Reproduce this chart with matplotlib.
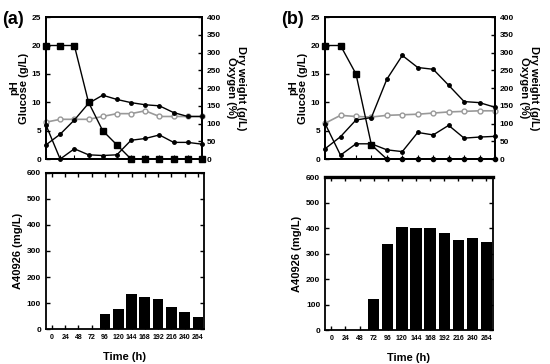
import numpy as np
import matplotlib.pyplot as plt

plt.rcParams['font.family'] = ['Liberation Sans', 'DejaVu Sans']
plt.rcParams['font.weight'] = 'bold'

time = [0, 24, 48, 72, 96, 120, 144, 168, 192, 216, 240, 264]

# panel (a)
glucose_a = [20, 20, 20, 10, 5, 2.5, 0, 0, 0, 0, 0, 0]
ph_a = [6.5, 7, 7, 7, 7.5, 8, 8, 8.5, 7.5, 7.5, 7.5, 7.5]
dry_a = [40, 70, 110, 157, 180, 168, 159, 153, 150, 131, 120, 120]
oxy_a = [96, 0, 29, 12, 10, 12, 53, 58, 68, 47, 47, 42]
a40926_a = [0, 0, 0, 2, 58, 78, 136, 122, 117, 86, 65, 45]

# panel (b)
glucose_b = [20, 20, 15, 2.5, 0, 0, 0, 0, 0, 0, 0, 0]
ph_b = [6.3, 7.7, 7.5, 7.4, 7.7, 7.8, 7.9, 8.1, 8.3, 8.4, 8.5, 8.5]
dry_b = [29, 63, 110, 117, 225, 292, 258, 253, 208, 162, 159, 146]
oxy_b = [100, 11, 43, 43, 26, 21, 75, 68, 95, 59, 62, 64]
a40926_b = [0, 0, 0, 121, 338, 403, 399, 399, 381, 355, 360, 344]

fig = plt.figure(figsize=(5.5, 3.64), dpi=100)


def top_panel(rect, glu, ph, dry, oxy, label, zero_squares=True):
    ax = fig.add_axes(rect)
    ax2 = ax.twinx()
    if zero_squares:
        ax.plot(time, glu, '-s', color='black', ms=4.5, lw=1, clip_on=False, zorder=5)
    else:
        t = np.array(time)
        g = np.array(glu)
        ax.plot(t, g, '-', color='black', lw=1, clip_on=False, zorder=5)
        ax.plot(t[g > 0], g[g > 0], 's', color='black', ms=4.5, clip_on=False, zorder=5)
        ax.plot(t[g == 0], g[g == 0], 'o', color='black', ms=3, clip_on=False, zorder=5)
    ax.plot(time, ph, '-o', color='#999999', mfc='white', mec='#999999', ms=3.5, lw=1.2, clip_on=False)
    ax2.plot(time, dry, '-o', color='black', ms=2.5, lw=1, clip_on=False)
    ax2.plot(time, oxy, '-o', color='black', ms=2.5, lw=1, clip_on=False)
    ax.set_xlim(0, 264)
    ax.set_ylim(0, 25)
    ax2.set_ylim(0, 400)
    ax.set_yticks([0, 5, 10, 15, 20, 25])
    ax2.set_yticks(range(0, 401, 50))
    ax.set_xticks(time)
    ax.tick_params(axis='x', direction='in', labelbottom=False, length=3)
    ax.tick_params(axis='y', direction='in', labelsize=6, length=3, width=1)
    ax2.tick_params(axis='y', direction='in', labelsize=6, length=3, width=1)
    ax.set_ylabel('pH\nGlucose (g/L)', fontsize=8, fontweight='bold', labelpad=2, linespacing=1.0)
    ax2.set_ylabel('Dry weight (g/L)\nOxygen (%)', fontsize=8, fontweight='bold',
                   rotation=270, labelpad=18, linespacing=1.0)
    for a in (ax, ax2):
        for s in a.spines.values():
            s.set_linewidth(1.3)
    fig.text(rect[0] - 0.08, 0.935, label, fontsize=13, fontweight='bold')


def bottom_panel(rect, vals, top_lw):
    ax = fig.add_axes(rect)
    x = np.arange(len(time))
    ax.bar(x, vals, width=0.8, color='black', zorder=3)
    ax.set_xlim(-0.45, 11.45)
    ax.set_ylim(0, 600)
    ax.set_xticks(x)
    ax.set_xticklabels([str(t) for t in time])
    ax.set_yticks(range(0, 601, 100))
    ax.tick_params(axis='x', direction='in', labelsize=5, length=3, top=True, width=1)
    ax.tick_params(axis='y', direction='in', labelsize=6, length=3, right=True, width=1)
    ax.set_ylabel('A40926 (mg/L)', fontsize=8, fontweight='bold', labelpad=3)
    ax.set_xlabel('Time (h)', fontsize=8, fontweight='bold', labelpad=8)
    for s in ax.spines.values():
        s.set_linewidth(1.3)
    ax.spines['top'].set_linewidth(top_lw)


top_panel([0.0836, 0.563, 0.2836, 0.390], glucose_a, ph_a, dry_a, oxy_a, '(a)')
top_panel([0.591, 0.563, 0.309, 0.390], glucose_b, ph_b, dry_b, oxy_b, '(b)', zero_squares=False)
bottom_panel([0.0836, 0.096, 0.287, 0.429], a40926_a, 1.5)
bottom_panel([0.591, 0.093, 0.305, 0.420], a40926_b, 2.4)

fig.savefig('out.png', dpi=100)
